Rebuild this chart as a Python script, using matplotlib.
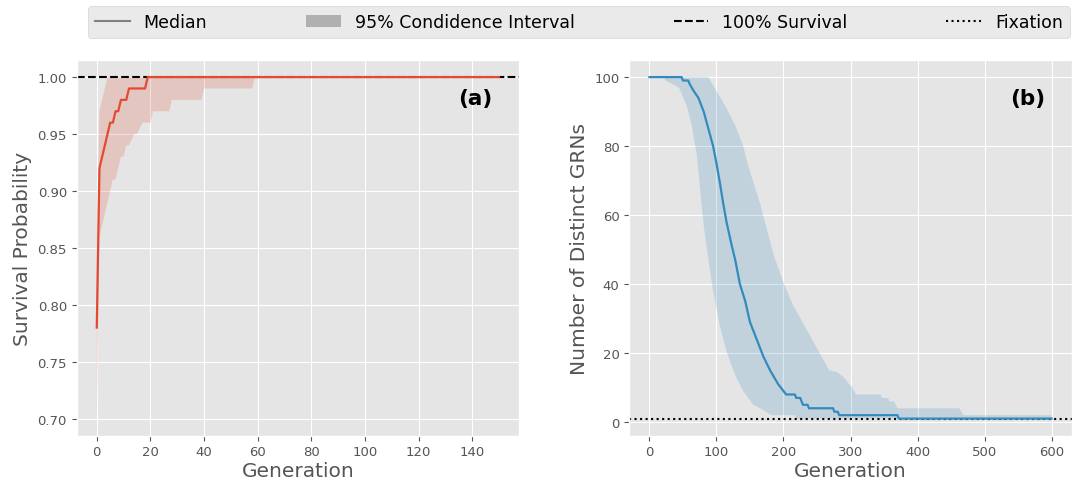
import matplotlib
matplotlib.use("Agg")
import matplotlib.pyplot as plt
from matplotlib.lines import Line2D
from matplotlib.patches import Patch

plt.style.use("ggplot")
plt.rcParams['font.family'] = ['DejaVu Sans']

# ---------------- Panel (a): survival probability ----------------
med_a_gen = [0, 1, 5, 6, 7, 8, 9, 10, 11, 12, 18, 19, 150]
med_a = [0.78, 0.92, 0.96, 0.96, 0.97, 0.97, 0.98, 0.98, 0.98, 0.99, 0.99, 1.00, 1.00]

up_a_gen = [0, 1, 2, 3, 4, 150]
up_a = [0.86, 0.97, 0.98, 0.99, 1.00, 1.00]

lo_a_gen = [0, 1, 2, 3, 4, 5, 6, 7, 8, 9, 10, 11, 12, 14, 15, 17, 20, 21, 27, 28, 39, 40, 58, 59, 150]
lo_a = [0.70, 0.86, 0.87, 0.88, 0.89, 0.90, 0.91, 0.91, 0.92, 0.93, 0.93, 0.94, 0.94, 0.95, 0.95,
        0.96, 0.96, 0.97, 0.97, 0.98, 0.98, 0.99, 0.99, 1.00, 1.00]

# ---------------- Panel (b): number of distinct GRNs ----------------
med_b_gen = [0, 48, 50, 58, 60, 66, 73, 81, 88, 95, 100, 105, 110, 115, 123, 128, 135, 143, 150,
             160, 170, 180, 192, 200, 204, 217, 219, 225, 227, 229, 236, 238, 274, 276, 281, 283,
             370, 372, 600]
med_b = [100, 100, 99, 99, 98, 96, 94, 90, 85, 80, 75, 69.5, 63.5, 58, 51, 47, 40, 35, 29,
         24, 19, 15, 11, 9, 8, 8, 7, 7, 6, 5, 5, 4, 4, 3, 3, 2,
         2, 1, 1]

up_b_gen = [0, 88, 100, 115, 128, 140, 145, 155, 165, 175, 187, 200, 214, 234, 254, 264, 268,
            280, 290, 298, 303, 308, 345, 347, 356, 358, 365, 370, 462, 469, 600]
up_b = [100, 100, 96, 91, 86, 80, 76, 69.5, 63.5, 56, 47.5, 40.5, 34, 27, 20, 16.5, 15,
        14.5, 13, 11, 10, 8, 8, 7, 7, 6, 6, 4, 4, 2, 2]

lo_b_gen = [0, 22, 24, 44, 56, 63, 71, 76, 81, 88, 95, 105, 115, 128, 140, 155, 170, 182, 217, 219, 600]
lo_b = [100, 100, 99, 97, 91.5, 86, 77, 66.5, 57, 47, 38, 28, 20.5, 13.5, 9, 5, 3.5, 2, 2, 1, 1]

red = '#E24A33'
blue = '#348ABD'

fig = plt.figure(figsize=(10.8, 4.85), dpi=100)
axA = fig.add_axes([0.071, 0.0996, 0.4096, 0.7746])
axB = fig.add_axes([0.5827, 0.0996, 0.4096, 0.7746])

# Panel a
axA.fill(up_a_gen + lo_a_gen[::-1], up_a + lo_a[::-1], color=red, alpha=0.2, lw=0)
axA.axhline(1.0, color='black', ls='--', lw=1.5, zorder=2)
axA.plot(med_a_gen, med_a, color=red, lw=1.6, zorder=3)
axA.set_xticks(range(0, 141, 20))
axA.set_yticks([0.70, 0.75, 0.80, 0.85, 0.90, 0.95, 1.00])
axA.set_yticklabels([f"{v:.2f}" for v in [0.70, 0.75, 0.80, 0.85, 0.90, 0.95, 1.00]])
axA.set_xlabel("Generation", fontsize=14.5, labelpad=2)
axA.set_ylabel("Survival Probability", fontsize=14.5)
axA.text(0.9, 0.9, "(a)", transform=axA.transAxes, fontsize=15.5, fontweight='bold',
         ha='center', va='center', color='black')

# Panel b
axB.fill(up_b_gen + lo_b_gen[::-1], up_b + lo_b[::-1], color=blue, alpha=0.2, lw=0)
axB.axhline(1.0, color='black', ls=':', lw=1.5, zorder=2)
axB.plot(med_b_gen, med_b, color=blue, lw=1.6, zorder=3)
axB.set_xticks(range(0, 601, 100))
axB.set_yticks(range(0, 101, 20))
axB.set_xlabel("Generation", fontsize=14.5, labelpad=2)
axB.set_ylabel("Number of Distinct GRNs", fontsize=14.5)
axB.text(0.9, 0.9, "(b)", transform=axB.transAxes, fontsize=15.5, fontweight='bold',
         ha='center', va='center', color='black')

for ax in (axA, axB):
    ax.tick_params(labelsize=9.5, colors='#555555')

handles = [
    Line2D([], [], color='gray', lw=1.5),
    Patch(facecolor='#b0b0b0', edgecolor='none'),
    Line2D([], [], color='black', ls='--', lw=1.5),
    Line2D([], [], color='black', ls=':', lw=1.5),
]
labels = ["Median", "95% Condidence Interval", "100% Survival", "Fixation"]
fig.legend(handles, labels, loc='lower left', mode='expand', ncol=4,
           bbox_to_anchor=(0.0815, 0.9196, 0.909, 0.066), borderaxespad=0,
           fontsize=12.5, frameon=True)

fig.savefig("out.png", dpi=100)
